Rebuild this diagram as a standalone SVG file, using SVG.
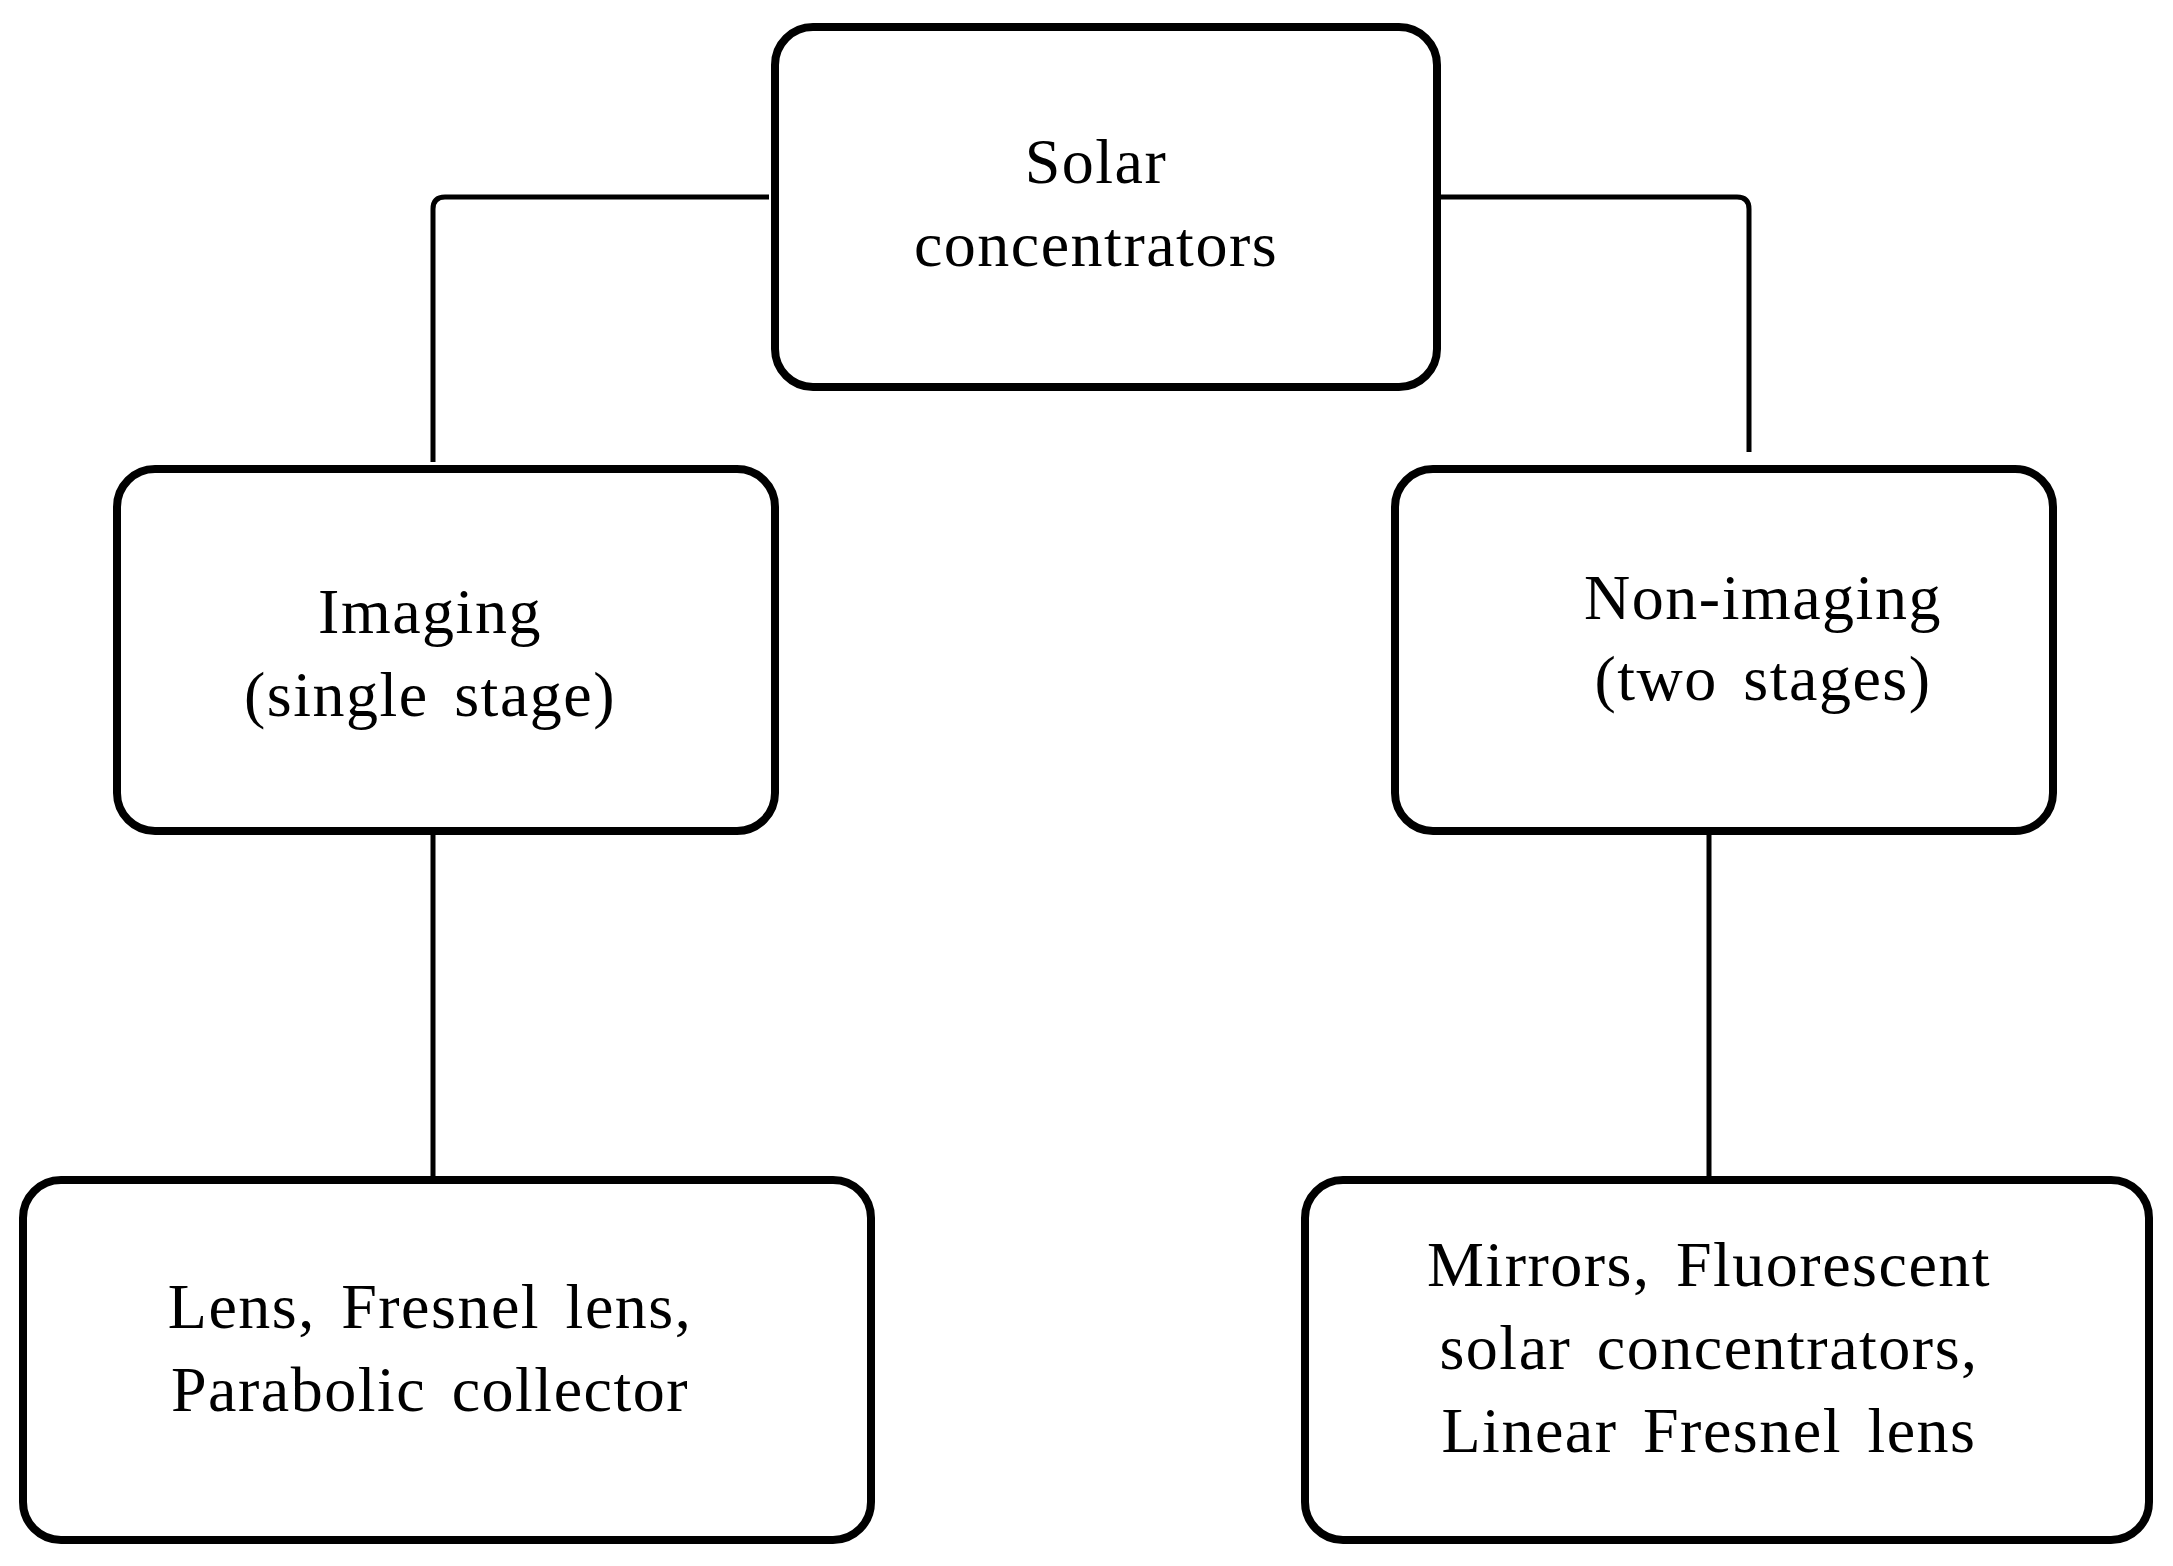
<svg xmlns="http://www.w3.org/2000/svg" width="2173" height="1566" viewBox="0 0 2173 1566">
<style>
.b{fill:#fff;stroke:#000;stroke-width:8}
.c{fill:none;stroke:#000;stroke-width:5}
text{font-family:"Liberation Serif","Times New Roman",serif;font-size:64px;letter-spacing:1.5px;text-anchor:middle;fill:#000;word-spacing:8px}
</style>
<rect width="2173" height="1566" fill="#fff"/>
<g id="connectors">
<path class="c" d="M769 197 H445 Q433 197 433 209 V462"/>
<path class="c" d="M1441 197 H1737 Q1749 197 1749 209 V452"/>
<path class="c" d="M433 834 V1176"/>
<path class="c" d="M1709 834 V1176"/>
</g>
<g id="root"><rect class="b" x="775" y="27" width="662" height="360" rx="38"/>
<text x="1096" y="183">Solar</text><text x="1096" y="266">concentrators</text></g>
<g id="imaging"><rect class="b" x="117" y="469" width="658" height="362" rx="38"/>
<text x="430" y="633">Imaging</text><text x="430" y="716">(single stage)</text></g>
<g id="nonimaging"><rect class="b" x="1395" y="469" width="658" height="362" rx="38"/>
<text x="1763" y="619">Non-imaging</text><text x="1763" y="700">(two stages)</text></g>
<g id="imaging-ex"><rect class="b" x="23" y="1180" width="848" height="360" rx="38"/>
<text x="430" y="1328">Lens, Fresnel lens,</text><text x="430" y="1411">Parabolic collector</text></g>
<g id="nonimaging-ex"><rect class="b" x="1305" y="1180" width="844" height="360" rx="38"/>
<text x="1709" y="1286">Mirrors, Fluorescent</text><text x="1709" y="1369">solar concentrators,</text><text x="1709" y="1452">Linear Fresnel lens</text></g>
</svg>
